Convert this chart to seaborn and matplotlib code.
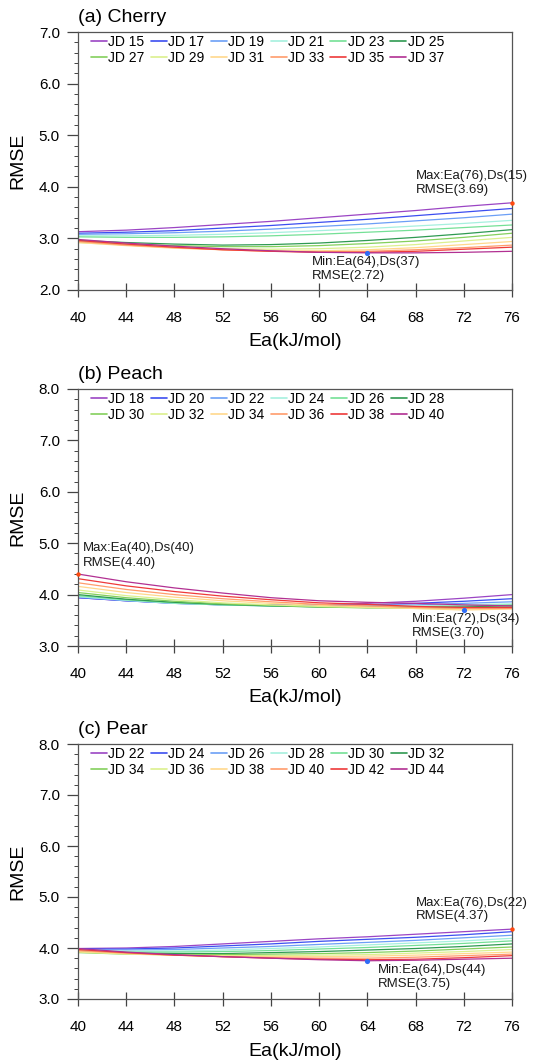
import numpy as np
import pandas as pd
import matplotlib
matplotlib.use("Agg")
import matplotlib.pyplot as plt
from matplotlib.lines import Line2D
from matplotlib.ticker import MultipleLocator, FormatStrFormatter
import seaborn as sns

# ---------------- data ----------------
ea = [40, 44, 48, 52, 56, 60, 64, 68, 72, 76]

cherry_jd = [15, 17, 19, 21, 23, 25, 27, 29, 31, 33, 35, 37]
cherry_rmse = [
    [3.13, 3.16, 3.21, 3.27, 3.33, 3.40, 3.47, 3.54, 3.62, 3.69],
    [3.10, 3.12, 3.15, 3.20, 3.25, 3.31, 3.37, 3.44, 3.51, 3.58],
    [3.08, 3.09, 3.11, 3.14, 3.18, 3.23, 3.28, 3.34, 3.40, 3.47],
    [3.05, 3.05, 3.06, 3.08, 3.11, 3.15, 3.19, 3.24, 3.29, 3.35],
    [3.03, 3.02, 3.02, 3.03, 3.05, 3.08, 3.12, 3.16, 3.21, 3.26],
    [2.96, 2.92, 2.89, 2.87, 2.88, 2.91, 2.96, 3.02, 3.09, 3.17],
    [2.93, 2.89, 2.86, 2.84, 2.84, 2.86, 2.90, 2.95, 3.02, 3.10],
    [2.92, 2.87, 2.83, 2.80, 2.79, 2.80, 2.83, 2.88, 2.95, 3.02],
    [2.92, 2.86, 2.81, 2.78, 2.76, 2.76, 2.78, 2.82, 2.88, 2.94],
    [2.94, 2.87, 2.82, 2.78, 2.75, 2.74, 2.75, 2.78, 2.82, 2.87],
    [2.96, 2.89, 2.83, 2.78, 2.75, 2.73, 2.73, 2.75, 2.79, 2.83],
    [2.98, 2.91, 2.85, 2.80, 2.76, 2.73, 2.72, 2.72, 2.73, 2.75],
]

peach_jd = [18, 20, 22, 24, 26, 28, 30, 32, 34, 36, 38, 40]
peach_rmse = [
    [3.94, 3.88, 3.84, 3.81, 3.80, 3.80, 3.83, 3.87, 3.93, 4.00],
    [3.94, 3.88, 3.83, 3.80, 3.79, 3.79, 3.80, 3.83, 3.87, 3.92],
    [3.95, 3.88, 3.83, 3.80, 3.78, 3.78, 3.79, 3.80, 3.83, 3.86],
    [3.96, 3.89, 3.83, 3.80, 3.78, 3.77, 3.77, 3.78, 3.80, 3.82],
    [3.98, 3.90, 3.84, 3.80, 3.78, 3.76, 3.76, 3.76, 3.78, 3.80],
    [4.00, 3.91, 3.85, 3.81, 3.78, 3.76, 3.75, 3.75, 3.76, 3.78],
    [4.04, 3.94, 3.87, 3.82, 3.79, 3.76, 3.74, 3.74, 3.74, 3.76],
    [4.09, 3.98, 3.90, 3.84, 3.80, 3.77, 3.75, 3.73, 3.72, 3.74],
    [4.16, 4.04, 3.95, 3.88, 3.83, 3.79, 3.76, 3.73, 3.70, 3.72],
    [4.23, 4.10, 4.00, 3.92, 3.86, 3.81, 3.78, 3.75, 3.73, 3.73],
    [4.31, 4.17, 4.06, 3.97, 3.90, 3.84, 3.81, 3.77, 3.75, 3.75],
    [4.40, 4.25, 4.13, 4.03, 3.94, 3.88, 3.85, 3.83, 3.80, 3.78],
]

pear_jd = [22, 24, 26, 28, 30, 32, 34, 36, 38, 40, 42, 44]
pear_rmse = [
    [3.99, 4.00, 4.03, 4.08, 4.13, 4.18, 4.22, 4.27, 4.32, 4.37],
    [3.98, 3.98, 4.00, 4.04, 4.08, 4.13, 4.17, 4.21, 4.26, 4.32],
    [3.97, 3.96, 3.97, 4.00, 4.03, 4.07, 4.11, 4.15, 4.20, 4.25],
    [3.96, 3.94, 3.94, 3.96, 3.99, 4.02, 4.06, 4.10, 4.14, 4.19],
    [3.94, 3.92, 3.92, 3.93, 3.95, 3.98, 4.01, 4.05, 4.09, 4.14],
    [3.92, 3.90, 3.89, 3.89, 3.91, 3.93, 3.96, 3.99, 4.03, 4.08],
    [3.91, 3.88, 3.87, 3.87, 3.88, 3.89, 3.91, 3.94, 3.98, 4.02],
    [3.92, 3.88, 3.86, 3.85, 3.85, 3.86, 3.87, 3.90, 3.93, 3.97],
    [3.93, 3.89, 3.86, 3.84, 3.83, 3.83, 3.84, 3.86, 3.89, 3.92],
    [3.95, 3.90, 3.86, 3.83, 3.81, 3.80, 3.80, 3.82, 3.85, 3.88],
    [3.97, 3.91, 3.86, 3.83, 3.80, 3.78, 3.77, 3.78, 3.81, 3.85],
    [3.99, 3.92, 3.87, 3.83, 3.80, 3.77, 3.75, 3.76, 3.78, 3.80],
]

titles = ["(a) Cherry", "(b) Peach", "(c) Pear"]
ylims = [(2.0, 7.0), (3.0, 8.0), (3.0, 8.0)]
xticks = [40, 44, 48, 52, 56, 60, 64, 68, 72, 76]

max_pts = [(76, 3.69, 15), (40, 4.40, 40), (76, 4.37, 22)]
min_pts = [(64, 2.72, 37), (72, 3.70, 34), (64, 3.75, 44)]
# annotation placement: x-left, centre of line 1, centre of line 2
max_txt = [(68.0, 4.20, 3.93), (40.44, 4.906, 4.62), (68.0, 4.886, 4.63)]
min_txt = [(59.37, 2.55, 2.28), (67.68, 3.53, 3.25), (64.9, 3.57, 3.30)]

colors = ["#9b45c4", "#3c4ef0", "#6c9ff6", "#a6f0de", "#74e096", "#2f9a52",
          "#84d05c", "#dcf08e", "#ffd88c", "#ff9c6c", "#ee3a3a", "#b23092"]

# ---------------- style ----------------
sns.set_theme(style="white")
plt.rcParams["font.family"] = ["Liberation Sans", "DejaVu Sans"]
plt.rcParams["text.color"] = "black"
plt.rcParams["axes.labelcolor"] = "black"
plt.rcParams["xtick.labelcolor"] = "black"
plt.rcParams["ytick.labelcolor"] = "black"

fig = plt.figure(figsize=(5.39, 10.64), dpi=100)
W, H = 539.0, 1064.0
boxes = [(78, 32, 512, 290), (78, 389, 512, 646), (78, 744, 512, 999)]

datasets = [(cherry_jd, cherry_rmse), (peach_jd, peach_rmse), (pear_jd, pear_rmse)]

for k, ((jds, vals), (l, t, r, b)) in enumerate(zip(datasets, boxes)):
    ax = fig.add_axes([l / W, 1 - b / H, (r - l) / W, (b - t) / H])
    rows = []
    for jd, series in zip(jds, vals):
        for x, y in zip(ea, series):
            rows.append({"Ea": x, "RMSE": y, "JD": f"JD {jd}"})
    df = pd.DataFrame(rows)
    labels = [f"JD {j}" for j in jds]
    pal = dict(zip(labels, colors))
    sns.lineplot(data=df, x="Ea", y="RMSE", hue="JD", hue_order=labels,
                 palette=pal, linewidth=0.9, legend=False, ax=ax)

    # max / min markers
    mx, my, mds = max_pts[k]
    nx, ny, nds = min_pts[k]
    ax.scatter([mx], [my], s=10, color="#ff4a10", zorder=5, clip_on=False, linewidths=0)
    ax.scatter([nx], [ny], s=14, color="#2f6cf6", zorder=5, clip_on=False, linewidths=0)
    tx, y1, y2 = max_txt[k]
    ax.text(tx, y1, f"Max:Ea({mx}),Ds({mds})", fontsize=9.5, va="center",
            ha="left", color="#1a1a1a")
    ax.text(tx, y2, f"RMSE({my:.2f})", fontsize=9.5, va="center",
            ha="left", color="#1a1a1a")
    tx, y1, y2 = min_txt[k]
    ax.text(tx, y1, f"Min:Ea({nx}),Ds({nds})", fontsize=9.5, va="center",
            ha="left", color="#1a1a1a")
    ax.text(tx, y2, f"RMSE({ny:.2f})", fontsize=9.5, va="center",
            ha="left", color="#1a1a1a")

    ax.set_xlim(40, 76)
    ax.set_ylim(*ylims[k])
    ax.set_xticks(xticks)
    ax.yaxis.set_major_locator(MultipleLocator(1.0))
    ax.yaxis.set_minor_locator(MultipleLocator(0.2))
    ax.yaxis.set_major_formatter(FormatStrFormatter("%.1f"))
    ax.tick_params(axis="x", which="major", direction="inout", length=10,
                   width=0.9, color="#444444", labelsize=11, pad=10, bottom=True)
    ax.tick_params(axis="y", which="major", direction="out", length=8,
                   width=0.9, color="#444444", labelsize=11, pad=5, left=True)
    ax.tick_params(axis="y", which="minor", direction="out", length=3,
                   width=0.7, color="#444444", left=True)
    for sp in ax.spines.values():
        sp.set_color("#555555")
        sp.set_linewidth(0.9)

    ax.set_xlabel("Ea(kJ/mol)", fontsize=14)
    ax.set_ylabel("RMSE", fontsize=14)
    ax.xaxis.set_label_coords(0.5, -52.0 / (b - t))
    ax.xaxis.label.set_va("center")
    ax.yaxis.set_label_coords(-(78.0 - 18.0) / (r - l), 0.5)
    ax.yaxis.label.set_va("center")
    ax.set_title(titles[k], loc="left", fontsize=14, pad=7)

    # legend, row-major order in 2 rows x 6 columns
    handles = [Line2D([0], [0], color=c, lw=1.2) for c in colors]
    order = []
    for c in range(6):
        order += [c, c + 6]
    ax.legend([handles[i] for i in order], [labels[i] for i in order],
              ncol=6, loc="upper left", bbox_to_anchor=(13.0 / (r - l), 0.99),
              frameon=False, fontsize=10, handlelength=1.15, handletextpad=0.1,
              columnspacing=0.45, labelspacing=0.15, borderpad=0, borderaxespad=0)

fig.savefig("out.png", dpi=100)
